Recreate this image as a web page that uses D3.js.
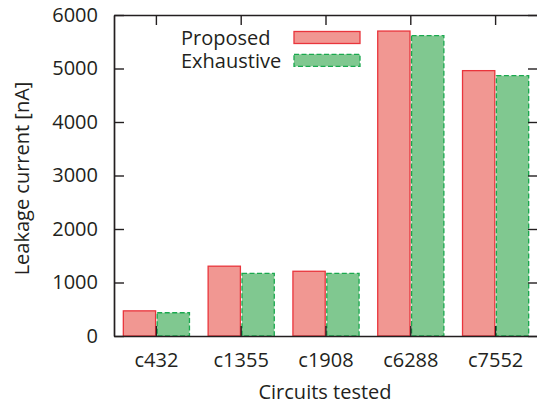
<!DOCTYPE html>
<html>
<head>
<meta charset="utf-8">
<script src="https://cdn.jsdelivr.net/npm/d3@7"></script>
<style>
  html, body { margin: 0; padding: 0; background: #fff; }
  svg { display: block; }
  text { font-family: "Open Sans", "Noto Sans", sans-serif; fill: #231f20; }
</style>
</head>
<body>
<svg id="chart" width="537" height="403"></svg>
<script>
// Circuits and measured leakage current (nA)
const circuits = ["c432", "c1355", "c1908", "c6288", "c7552"];
const proposed = [470, 1305, 1210, 5700, 4960];
const exhaustive = [435, 1170, 1170, 5615, 4865];
const seriesNames = ["Proposed", "Exhaustive"];
const yTicks = [0, 1000, 2000, 3000, 4000, 5000, 6000];

const svg = d3.select("#chart");
const ink = "#231f20";
const fontPx = 20;

const plotLeft = 114, plotRight = 538, plotTop = 15, plotBottom = 336;

const x = d3.scaleBand().domain(circuits).range([plotLeft, plotRight]).paddingInner(0).paddingOuter(0);
const y = d3.scaleLinear().domain([0, 6000]).range([plotBottom, plotTop]);
const barW = x.bandwidth() * 0.39;

const styles = [
  { fill: "#f19792", stroke: "#e9353c", dash: null },
  { fill: "#80c890", stroke: "#1aa84e", dash: "5,2.5" }
];

// bars
const series = [proposed, exhaustive];
series.forEach((vals, s) => {
  svg.append("g").selectAll("rect")
    .data(circuits.map((c, i) => ({ c, v: vals[i] })))
    .join("rect")
    .attr("x", d => x(d.c) + x.bandwidth() / 2 + (s === 0 ? -barW : 0.8))
    .attr("width", barW - 0.8)
    .attr("y", d => y(d.v))
    .attr("height", d => y(0) - y(d.v))
    .attr("fill", styles[s].fill)
    .attr("stroke", styles[s].stroke)
    .attr("stroke-width", 1.3)
    .attr("stroke-dasharray", styles[s].dash);
});

function styleAxis(g, showText) {
  g.selectAll(".domain").attr("stroke", ink).attr("stroke-width", 1.7);
  g.selectAll(".tick line").attr("stroke", ink).attr("stroke-width", 1.4);
  g.selectAll(".tick text")
    .attr("fill", ink)
    .style("font-family", "'Open Sans', 'Noto Sans', sans-serif")
    .style("font-size", fontPx + "px")
    .style("display", showText ? null : "none");
}

// axes with inward ticks
const yAxis = d3.axisLeft(y).tickValues(yTicks).tickFormat(d3.format("d")).tickSize(-10).tickSizeOuter(0).tickPadding(16);
svg.append("g").attr("transform", `translate(${plotLeft},0)`).call(yAxis).call(g => styleAxis(g, true));

const yAxisR = d3.axisRight(y).tickValues(yTicks).tickSize(-10).tickSizeOuter(0);
svg.append("g").attr("transform", `translate(${plotRight},0)`).call(yAxisR).call(g => styleAxis(g, false));

const xAxis = d3.axisBottom(x).tickSize(-10).tickSizeOuter(0).tickPadding(16.8);
svg.append("g").attr("transform", `translate(0,${plotBottom})`).call(xAxis).call(g => styleAxis(g, true));

const xAxisT = d3.axisTop(x).tickSize(-10).tickSizeOuter(0);
svg.append("g").attr("transform", `translate(0,${plotTop})`).call(xAxisT).call(g => styleAxis(g, false));

// axis titles
svg.append("text")
  .attr("transform", `translate(29,${(plotTop + plotBottom) / 2 + 3}) rotate(-90)`)
  .attr("text-anchor", "middle")
  .style("font-size", fontPx + "px")
  .text("Leakage current [nA]");

svg.append("text")
  .attr("x", 325)
  .attr("y", 399)
  .attr("text-anchor", "middle")
  .style("font-size", fontPx + "px")
  .text("Circuits tested");

// legend
const legend = svg.append("g");
seriesNames.forEach((name, s) => {
  const cy = 37.5 + s * 22.8;
  legend.append("text")
    .attr("x", 181)
    .attr("y", cy + 7.3)
    .style("font-size", fontPx + "px")
    .text(name);
  legend.append("rect")
    .attr("x", 294).attr("y", cy - 6)
    .attr("width", 66).attr("height", 12)
    .attr("fill", styles[s].fill)
    .attr("stroke", styles[s].stroke)
    .attr("stroke-width", 1.3)
    .attr("stroke-dasharray", styles[s].dash);
});
</script>
</body>
</html>
